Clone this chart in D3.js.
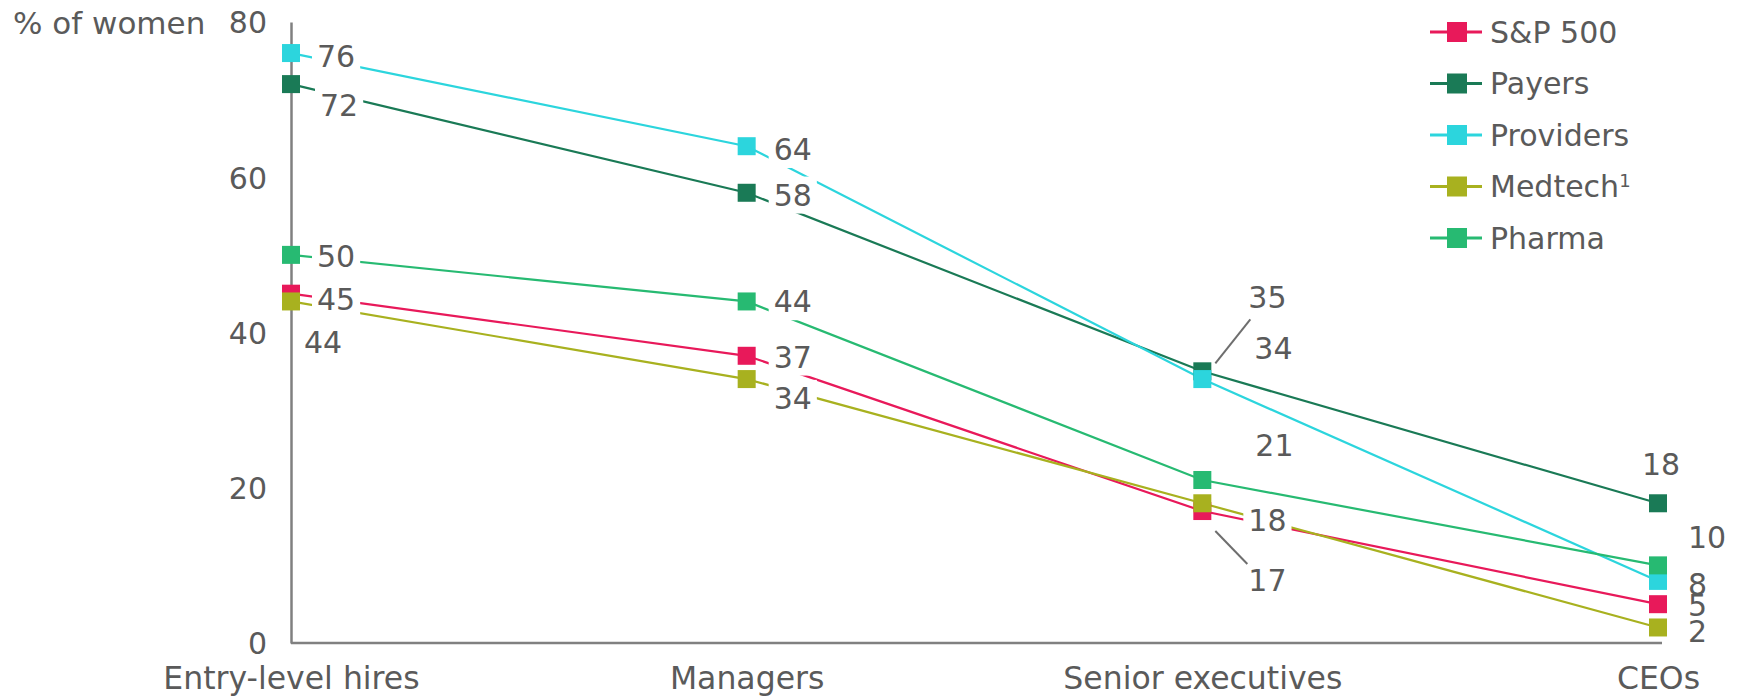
<!DOCTYPE html>
<html>
<head>
<meta charset="utf-8">
<script src="https://cdn.jsdelivr.net/npm/d3@7"></script>
<style>
  html, body { margin: 0; padding: 0; background: #ffffff; }
  svg { display: block; font-family: "DejaVu Sans", sans-serif; }
</style>
</head>
<body>
<svg id="chart" width="1739" height="698"></svg>
<script>
// Women's share of each level of the corporate pipeline, by sector
const categories = ["Entry-level hires", "Managers", "Senior executives", "CEOs"];
const seriesNames = ["S&P 500", "Payers", "Providers", "Medtech", "Pharma"];
const sp500 = [45, 37, 17, 5];
const payers = [72, 58, 35, 18];
const providers = [76, 64, 34, 8];
const medtech = [44, 34, 18, 2];
const pharma = [50, 44, 21, 10];
const yTicks = [0, 20, 40, 60, 80];
const yTitle = "% of women";

const seriesValues = [sp500, payers, providers, medtech, pharma];
const colors = ["#e8195a", "#1a7a56", "#2cd5dd", "#a8b11f", "#27ba72"];

// Value-label placement relative to each marker: [dx, dy, anchor]
const labelPlacement = [
  [[26, 6, "start"], [27, 1, "start"], [46, 69, "start"], [30, 1, "start"]],      // S&P 500
  [[29, 21, "start"], [27, 2, "start"], [46, -74, "start"], [3, -39, "middle"]],  // Payers
  [[26, 3, "start"], [27, 3, "start"], [52, -31, "start"], [30, 3, "start"]],     // Providers
  [[13, 41, "start"], [27, 19, "start"], [46, 17, "start"], [30, 4, "start"]],    // Medtech
  [[26, 1, "start"], [27, 0, "start"], [53, -35, "start"], [30, -28, "start"]]    // Pharma
];
// Leader lines from a marker toward a displaced label: [series, category, x1, y1, x2, y2]
const leaders = [
  [1, 2, 13, -8, 48, -52],
  [0, 2, 13, 20, 45, 53]
];

const svg = d3.select("#chart");
const textColor = "#5a5a5a";
const fontSize = 30;
const axisFontSize = 31.5;

const x = d3.scalePoint().domain(categories).range([291, 1658]);
const y = d3.scaleLinear().domain([0, 80]).range([643, 22]);

// Y axis
const yAxis = svg.append("g")
  .attr("transform", "translate(291,0)")
  .call(d3.axisLeft(y).tickValues(yTicks).tickSize(0).tickPadding(24).tickFormat(d3.format("d")));
yAxis.select(".domain").attr("stroke", "#808080").attr("stroke-width", 2.5);
yAxis.selectAll("text").attr("fill", textColor).attr("font-size", fontSize)
  .attr("font-family", "DejaVu Sans, sans-serif").attr("dy", "0.36em");

// X axis
const xAxis = svg.append("g")
  .attr("transform", "translate(0,643)")
  .call(d3.axisBottom(x).tickSize(0).tickSizeOuter(0).tickPadding(24));
xAxis.select(".domain").attr("stroke", "#808080").attr("stroke-width", 2.5)
  .attr("d", `M${x.range()[0]},0H${x.range()[1] + 4}`);
xAxis.selectAll("text").attr("fill", textColor).attr("font-size", axisFontSize)
  .attr("font-family", "DejaVu Sans, sans-serif");

// Axis title
svg.append("text")
  .attr("x", 13).attr("y", 23).attr("dy", "0.36em")
  .attr("fill", textColor).attr("font-size", 31)
  .text(yTitle);

// Series lines
const line = d3.line().x((d, i) => x(categories[i])).y(d => y(d));
const linesG = svg.append("g");
seriesValues.forEach((vals, s) => {
  linesG.append("path")
    .datum(vals)
    .attr("d", line)
    .attr("fill", "none")
    .attr("stroke", colors[s])
    .attr("stroke-width", 2.2);
});

// Value labels with white backing boxes
const labelBoxes = svg.append("g");
const labelTexts = svg.append("g");
seriesValues.forEach((vals, s) => {
  vals.forEach((v, i) => {
    const [dx, dy, anchor] = labelPlacement[s][i];
    const t = labelTexts.append("text")
      .attr("x", x(categories[i]) + dx)
      .attr("y", y(v) + dy)
      .attr("dy", "0.36em")
      .attr("text-anchor", anchor)
      .attr("fill", textColor)
      .attr("font-size", fontSize)
      .text(v);
    const b = t.node().getBBox();
    labelBoxes.append("rect")
      .attr("x", b.x - 5).attr("y", b.y - 1)
      .attr("width", b.width + 10).attr("height", b.height + 2)
      .attr("fill", "#ffffff");
  });
});

// Leader lines
svg.append("g").selectAll("line")
  .data(leaders)
  .join("line")
  .attr("x1", d => x(categories[d[1]]) + d[2])
  .attr("y1", d => y(seriesValues[d[0]][d[1]]) + d[3])
  .attr("x2", d => x(categories[d[1]]) + d[4])
  .attr("y2", d => y(seriesValues[d[0]][d[1]]) + d[5])
  .attr("stroke", "#6e6e6e")
  .attr("stroke-width", 2);

// Markers
const marker = 18;
const markersG = svg.append("g");
seriesValues.forEach((vals, s) => {
  markersG.selectAll(null)
    .data(vals)
    .join("rect")
    .attr("x", (d, i) => x(categories[i]) - marker / 2)
    .attr("y", d => y(d) - marker / 2)
    .attr("width", marker)
    .attr("height", marker)
    .attr("fill", colors[s]);
});

// Legend
const legend = svg.append("g").attr("transform", "translate(1430,32)");
const rowGap = 51.5;
seriesNames.forEach((name, s) => {
  const g = legend.append("g").attr("transform", `translate(0,${s * rowGap})`);
  g.append("line").attr("x1", 0).attr("x2", 52).attr("y1", 0).attr("y2", 0)
    .attr("stroke", colors[s]).attr("stroke-width", 3);
  g.append("rect").attr("x", 17).attr("y", -10).attr("width", 20).attr("height", 20)
    .attr("fill", colors[s]);
  const t = g.append("text").attr("x", 60).attr("y", 0).attr("dy", "0.36em")
    .attr("fill", textColor).attr("font-size", fontSize).text(name);
  if (name === "Medtech") {
    t.append("tspan").attr("dy", "-0.55em").attr("font-size", fontSize * 0.6).text("1");
  }
});
</script>
</body>
</html>
